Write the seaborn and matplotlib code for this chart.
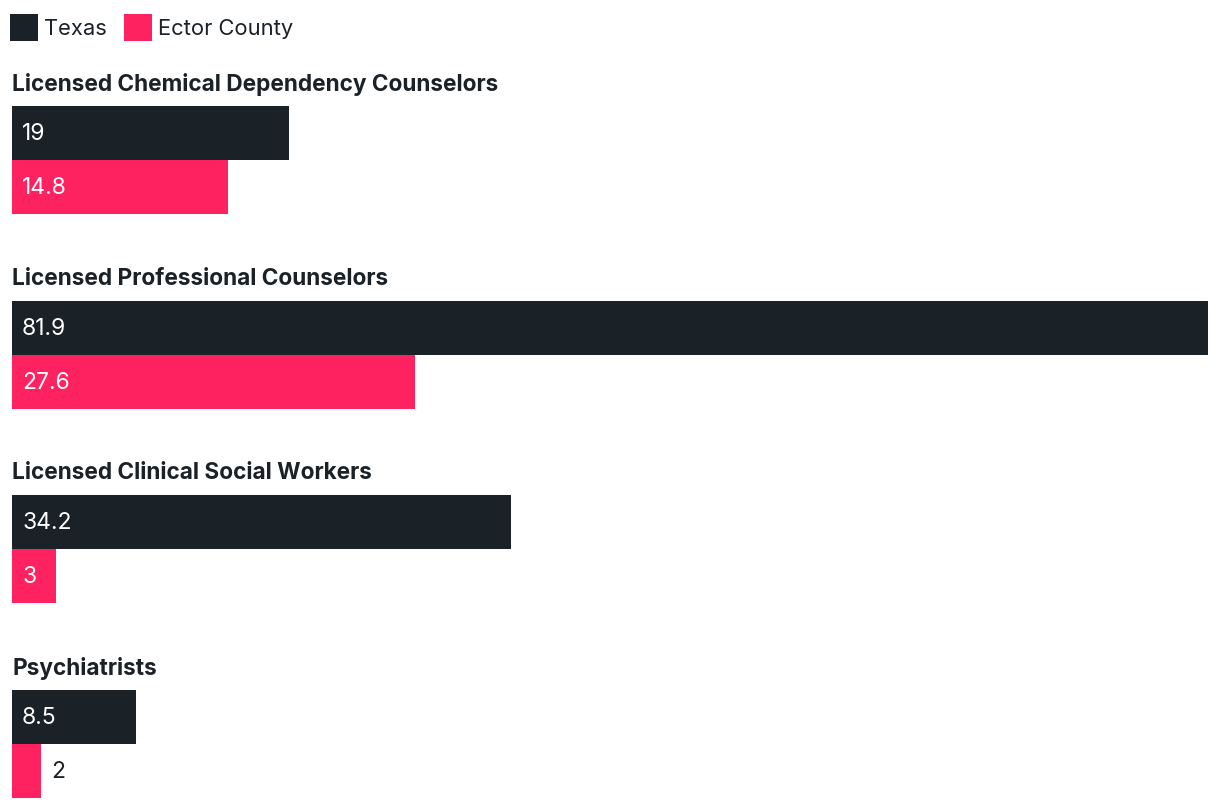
import matplotlib
matplotlib.use("Agg")
import matplotlib.pyplot as plt
import seaborn as sns
import pandas as pd
from matplotlib.patches import Patch
from matplotlib.transforms import offset_copy

categories = ["Licensed Chemical Dependency Counselors", "Licensed Professional Counselors",
              "Licensed Clinical Social Workers", "Psychiatrists"]
series = ["Texas", "Ector County"]
texas = [19, 81.9, 34.2, 8.5]
ector = [14.8, 27.6, 3, 2]
colors = ["#1b2227", "#ff2260"]

sns.set_theme(style="white")
plt.rcParams["font.family"] = ["Inter", "DejaVu Sans"]

df = pd.DataFrame({
    "category": categories * 2,
    "series": [series[0]] * 4 + [series[1]] * 4,
    "value": texas + ector,
})

W, H = 1220, 808
fig = plt.figure(figsize=(W / 100, H / 100), dpi=100)
ax = fig.add_axes([12 / W, 0, 1196 / W, 1])
sns.barplot(data=df, y="category", x="value", hue="series", order=categories,
            hue_order=series, palette=colors, orient="h", width=0.555,
            dodge=True, saturation=1, legend=False, linewidth=0, ax=ax)
ax.set_xlim(0, 81.9)
ax.set_ylim(3.329, -0.822)
ax.axis("off")

# value labels
for i, (tv, ev) in enumerate(zip(texas, ector)):
    for j, v in enumerate((tv, ev)):
        y = i + (-0.1387 if j == 0 else 0.1387)
        bar_px = v / 81.9 * 1196
        txt = f"{v:g}"
        tr = offset_copy(ax.transData, fig=fig, x=10, y=-1, units="dots")
        if bar_px > 40:
            ax.text(0, y, txt, transform=tr, color="white", va="center", ha="left", fontsize=16.5)
        else:
            ax.text(v, y, txt, transform=tr, color=colors[0], va="center", ha="left", fontsize=16.5)
    ax.text(0, i - 0.39, categories[i], color=colors[0], va="center", ha="left",
            fontsize=16.3, fontweight="bold")

handles = [Patch(facecolor=c, edgecolor="none") for c in colors]
fig.legend(handles, series, loc="upper left", bbox_to_anchor=(10 / W, 1 - 14 / H),
           frameon=False, fontsize=15.8, handlelength=1.28, handleheight=1.5,
           handletextpad=0.27, columnspacing=0.78, ncol=2, borderaxespad=0,
           borderpad=0, labelcolor=colors[0])

fig.savefig("out.png", dpi=100, facecolor="white")
